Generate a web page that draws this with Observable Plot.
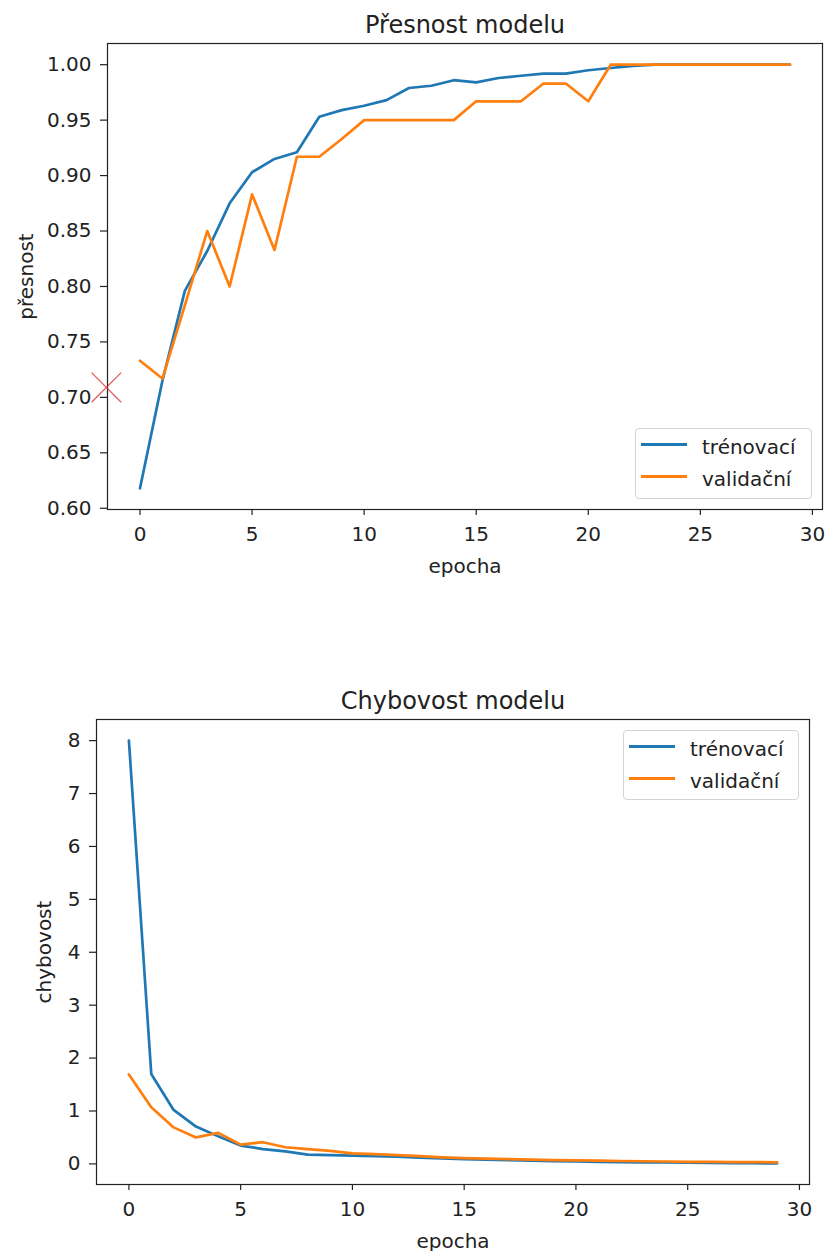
<!DOCTYPE html>
<html>
<head>
<meta charset="utf-8">
<script src="https://cdn.jsdelivr.net/npm/d3@7"></script>
<script src="https://cdn.jsdelivr.net/npm/@observablehq/plot@0.6"></script>
<style>
  html, body { margin: 0; padding: 0; background: #fff; }
  body { font-family: "DejaVu Sans", sans-serif; color: #222; width: 826px; }
  .chart { position: relative; width: 826px; }
  .chart svg { display: block; }
  .legend { position: absolute; box-sizing: border-box; border: 1px solid #d3d3d3; border-radius: 4px; background: rgba(255,255,255,0.8); }
  .legend .sw { position: absolute; height: 3px; }
  .legend .lb { position: absolute; font-size: 20px; line-height: 20px; white-space: nowrap; color: #222; }
</style>
</head>
<body>
<div id="root"></div>
<script>
// ---- data ----
const epochs = [0,1,2,3,4,5,6,7,8,9,10,11,12,13,14,15,16,17,18,19,20,21,22,23,24,25,26,27,28,29];
const seriesNames = ["trénovací", "validační"];
const seriesColors = ["#1f77b4", "#ff7f0e"];

const trainAcc = [0.618,0.715,0.796,0.832,0.875,0.903,0.915,0.921,0.953,0.959,0.963,0.968,0.979,0.981,0.986,0.984,0.988,0.990,0.992,0.992,0.995,0.997,0.999,1.0,1.0,1.0,1.0,1.0,1.0,1.0];
const valAcc   = [0.733,0.717,0.783,0.850,0.800,0.883,0.833,0.917,0.917,0.933,0.950,0.950,0.950,0.950,0.950,0.967,0.967,0.967,0.983,0.983,0.967,1.0,1.0,1.0,1.0,1.0,1.0,1.0,1.0,1.0];

const trainLoss = [8.0,1.70,1.02,0.705,0.52,0.346,0.28,0.235,0.176,0.165,0.155,0.145,0.135,0.12,0.105,0.09,0.08,0.07,0.06,0.05,0.045,0.04,0.035,0.03,0.026,0.022,0.018,0.015,0.012,0.01];
const valLoss   = [1.69,1.07,0.69,0.50,0.585,0.365,0.41,0.315,0.28,0.245,0.20,0.185,0.165,0.145,0.125,0.11,0.10,0.09,0.08,0.07,0.065,0.06,0.055,0.05,0.045,0.04,0.04,0.035,0.035,0.03];

const markerEpoch = [-1.5];
const markerValue = [0.709];

const xTicks = [0,5,10,15,20,25,30];
const accTicks = [0.60,0.65,0.70,0.75,0.80,0.85,0.90,0.95,1.00];
const lossTicks = [0,1,2,3,4,5,6,7,8];

const titles = ["Přesnost modelu", "Chybovost modelu"];
const yLabels = ["přesnost", "chybovost"];
const xLabel = "epocha";

// ---- helpers ----
function pad([lo, hi]) { const m = (hi - lo) * 0.05; return [lo - m, hi + m]; }
function rows(arr) { return epochs.map((e, i) => ({epoch: e, value: arr[i]})); }

function makeChart(o) {
  const yDomain = pad(d3.extent(o.train.concat(o.val)));
  const xDomain = pad(d3.extent(epochs));
  const marks = [
    Plot.axisX({ticks: xTicks, tickSize: 6, tickPadding: 11, tickFormat: d => String(d), label: null, stroke: "#222", strokeWidth: 1.2}),
    Plot.axisY({ticks: o.yTicks, tickSize: 7, tickPadding: 9, tickFormat: o.yFormat, label: null, stroke: "#222", strokeWidth: 1.2}),
    Plot.line(rows(o.train), {x: "epoch", y: "value", stroke: seriesColors[0], strokeWidth: 2.7, strokeLinejoin: "round"}),
    Plot.line(rows(o.val), {x: "epoch", y: "value", stroke: seriesColors[1], strokeWidth: 2.7, strokeLinejoin: "round"}),
    Plot.frame({stroke: "#222", strokeWidth: 1.2}),
    Plot.text([o.title], {frameAnchor: "top", dy: -11, lineAnchor: "bottom", textAnchor: "middle", fontSize: 24}),
    Plot.text([xLabel], {frameAnchor: "bottom", dy: 63, lineAnchor: "bottom", textAnchor: "middle"}),
    Plot.text([o.ylabel], {frameAnchor: "left", dx: o.ylabelDx, rotate: -90, lineAnchor: "bottom", textAnchor: "middle"})
  ];
  if (o.extra) marks.push(...o.extra);
  return Plot.plot({
    width: 826, height: o.height,
    marginTop: o.marginTop, marginBottom: o.marginBottom, marginLeft: o.marginLeft, marginRight: o.marginRight,
    style: {fontFamily: '"DejaVu Sans", sans-serif', fontSize: "20px", color: "#222", background: "#fff", overflow: "visible"},
    x: {domain: xDomain},
    y: {domain: yDomain},
    marks
  });
}

function addLegend(container, left, top, width, height) {
  const box = document.createElement("div");
  box.className = "legend";
  Object.assign(box.style, {left: left + "px", top: top + "px", width: width + "px", height: height + "px"});
  seriesNames.forEach((name, i) => {
    const sw = document.createElement("div");
    sw.className = "sw";
    Object.assign(sw.style, {left: "5px", top: (15.5 + i * 32 - 1.5) + "px", width: "46px", background: seriesColors[i]});
    const lb = document.createElement("div");
    lb.className = "lb";
    lb.textContent = name;
    Object.assign(lb.style, {left: "66px", top: (8 + i * 32) + "px"});
    box.appendChild(sw);
    box.appendChild(lb);
  });
  container.appendChild(box);
}

const root = document.getElementById("root");

// ---- chart 1: accuracy ----
const c1 = document.createElement("div");
c1.className = "chart";
c1.appendChild(makeChart({
  train: trainAcc, val: valAcc, yTicks: accTicks, yFormat: d3.format(".2f"),
  title: titles[0], ylabel: yLabels[0], ylabelDx: -75,
  height: 620, marginTop: 43, marginBottom: 111, marginLeft: 107, marginRight: 4,
  extra: [
    Plot.dot(markerEpoch.map((e, i) => ({epoch: e, value: markerValue[i]})), {
      x: "epoch", y: "value", symbol: "times", r: 13.5, stroke: "#d62728", strokeOpacity: 0.75, strokeWidth: 1.3
    })
  ]
}));
addLegend(c1, 635, 428, 177, 71);
root.appendChild(c1);

// ---- chart 2: loss ----
const c2 = document.createElement("div");
c2.className = "chart";
c2.appendChild(makeChart({
  train: trainLoss, val: valLoss, yTicks: lossTicks, yFormat: d => String(d),
  title: titles[1], ylabel: yLabels[1], ylabelDx: -46,
  height: 631, marginTop: 99, marginBottom: 67, marginLeft: 96, marginRight: 17
}));
addLegend(c2, 623, 110, 176, 70);
root.appendChild(c2);
</script>
</body>
</html>
